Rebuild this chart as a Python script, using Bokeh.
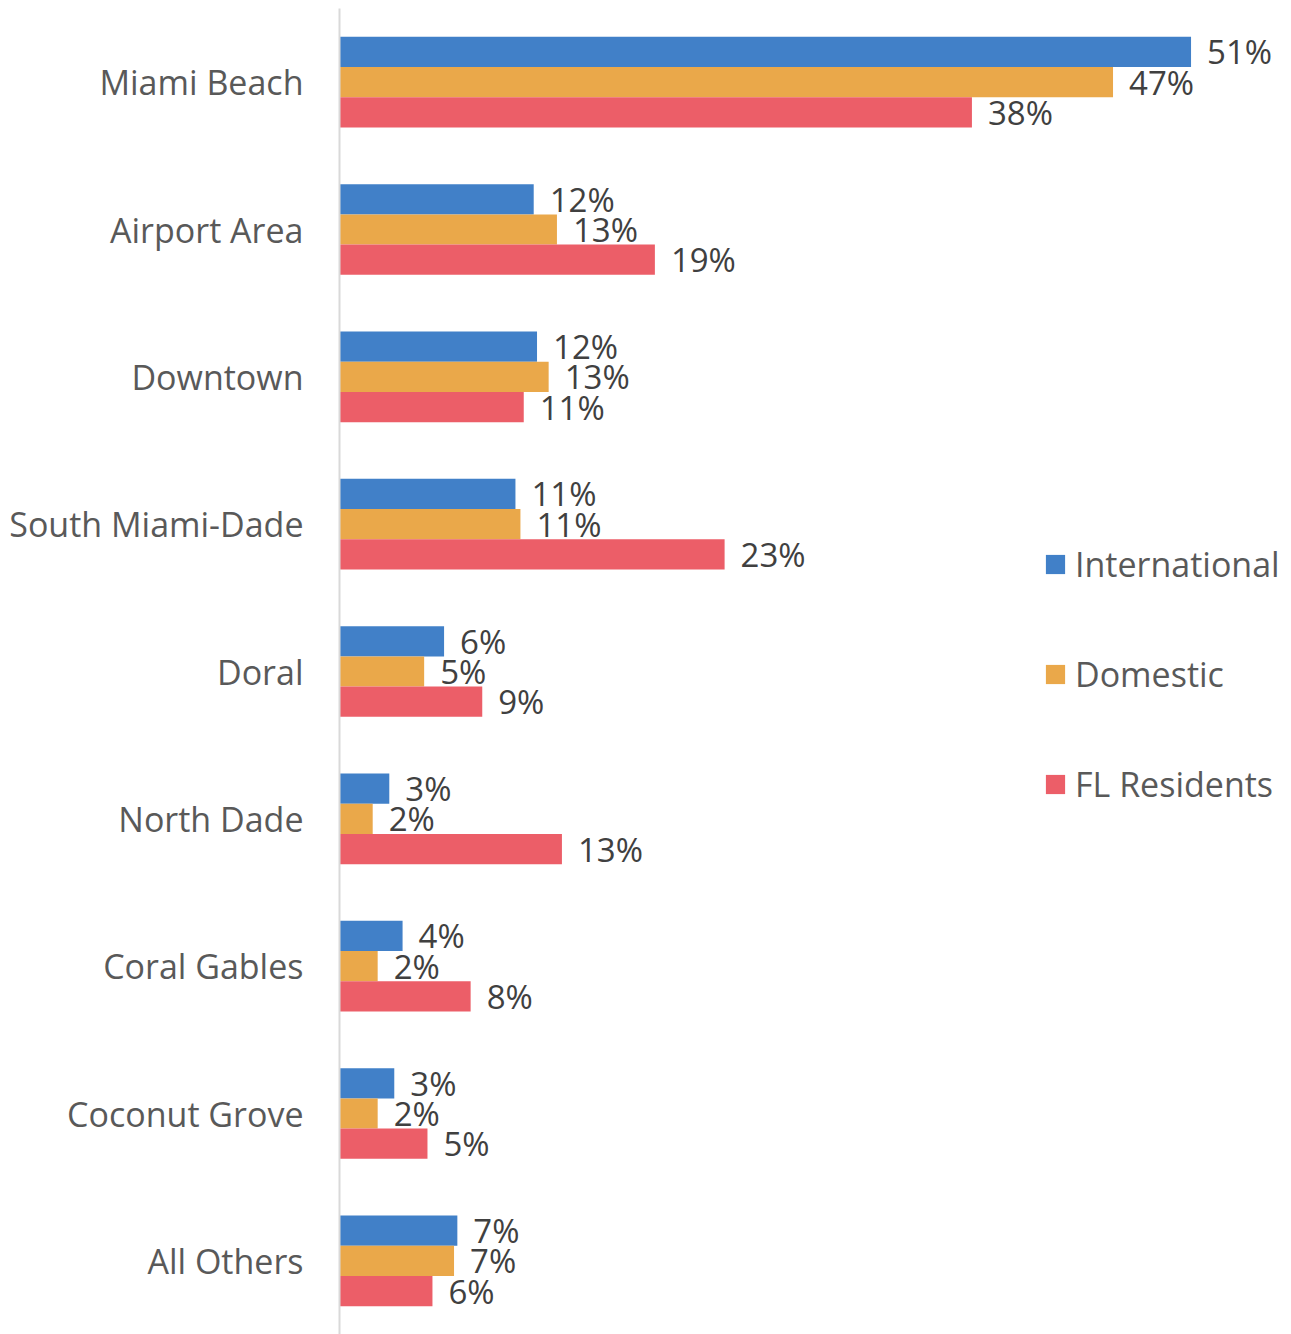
from bokeh.plotting import figure
from bokeh.models import ColumnDataSource, FactorRange, Range1d, Legend, LegendItem
from bokeh.transform import dodge
from bokeh.core.properties import value
from bokeh.embed import file_html
from bokeh.resources import INLINE

categories = ["Miami Beach", "Airport Area", "Downtown", "South Miami-Dade", "Doral",
              "North Dade", "Coral Gables", "Coconut Grove", "All Others"]
international = [51.3, 11.7, 11.9, 10.6, 6.3, 3.0, 3.8, 3.3, 7.1]
domestic = [46.6, 13.1, 12.6, 10.9, 5.1, 2.0, 2.3, 2.3, 6.9]
fl_residents = [38.1, 19.0, 11.1, 23.2, 8.6, 13.4, 7.9, 5.3, 5.6]
series_names = ["International", "Domestic", "FL Residents"]
colors = ["#4180C8", "#EAA84A", "#EC5E68"]

FONT = "Open Sans"

p = figure(width=1283, height=1334, output_backend="svg", toolbar_location=None,
           y_range=FactorRange(factors=list(reversed(categories))),
           x_range=Range1d(0, 56.87))
p.min_border_left = 339
p.min_border_right = 0
p.min_border_top = 8
p.min_border_bottom = 0
p.outline_line_color = None
p.xgrid.visible = False
p.ygrid.visible = False
p.xaxis.visible = False

ax = p.yaxis[0]
ax.axis_line_color = "#D9D9D9"
ax.axis_line_width = 2
ax.major_tick_line_color = None
ax.minor_tick_line_color = None
ax.major_label_text_font = FONT
ax.major_label_text_font_size = "34px"
ax.major_label_text_color = "#595959"
ax.major_label_standoff = 30

bar_h = 0.205
offsets = [bar_h, 0.0, -bar_h]
all_series = [international, domestic, fl_residents]
items = []
for name, vals, col, off in zip(series_names, all_series, colors, offsets):
    src = ColumnDataSource(dict(cat=categories, v=vals,
                                lab=[f"{round(v)}%" for v in vals]))
    r = p.hbar(y=dodge("cat", off, range=p.y_range), left=0, right="v", height=bar_h,
               source=src, fill_color=col, line_color=None)
    p.text(x="v", y=dodge("cat", off, range=p.y_range), text="lab", source=src,
           x_offset=16, text_align="left", text_baseline="middle",
           text_font=value(FONT), text_font_size="33px", text_color="#404040")
    items.append(LegendItem(label=name, renderers=[r]))

legend = Legend(items=items, location=(704, 527), orientation="vertical",
                glyph_width=24, glyph_height=24, label_text_font=FONT,
                label_text_font_size="34px", label_text_color="#595959",
                spacing=64, padding=0, margin=0, label_standoff=8,
                border_line_color=None, background_fill_alpha=0)
p.add_layout(legend, "center")

open("out.html", "w").write(file_html(p, INLINE))
